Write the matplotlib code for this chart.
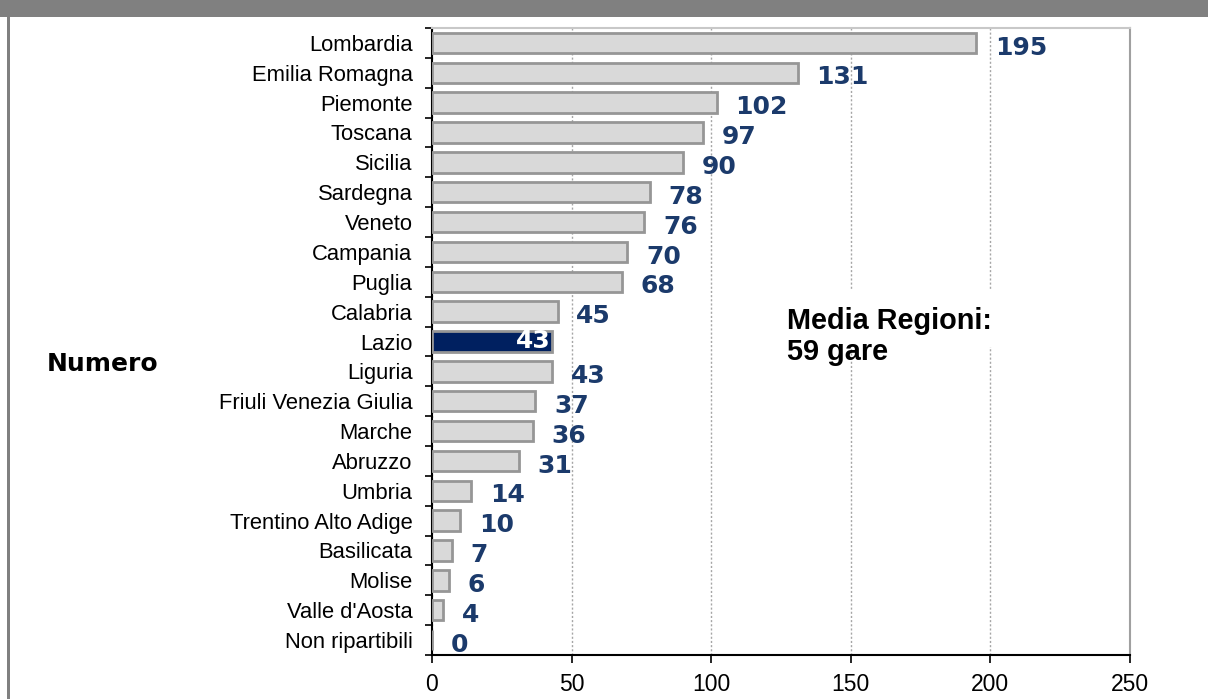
import matplotlib
matplotlib.use("Agg")
import matplotlib.pyplot as plt
from matplotlib.patches import Rectangle

regions = ["Lombardia", "Emilia Romagna", "Piemonte", "Toscana", "Sicilia",
           "Sardegna", "Veneto", "Campania", "Puglia", "Calabria", "Lazio",
           "Liguria", "Friuli Venezia Giulia", "Marche", "Abruzzo", "Umbria",
           "Trentino Alto Adige", "Basilicata", "Molise", "Valle d'Aosta",
           "Non ripartibili"]
values = [195, 131, 102, 97, 90, 78, 76, 70, 68, 45, 43, 43, 37, 36, 31,
          14, 10, 7, 6, 4, 0]
highlight = "Lazio"
xticks = [0, 50, 100, 150, 200, 250]

W, H = 1208, 699
fig = plt.figure(figsize=(W / 100, H / 100), dpi=100)
fig.patch.set_facecolor("white")

# header band and left border
fig.add_artist(Rectangle((0, 1 - 17 / H), 1, 17 / H, transform=fig.transFigure,
                         facecolor="#808080", edgecolor="none"))
fig.add_artist(Rectangle((7 / W, 0), 3 / W, 1 - 17 / H, transform=fig.transFigure,
                         facecolor="#808080", edgecolor="none"))

ax = fig.add_axes([432 / W, (H - 655) / H, (1130 - 432) / W, (655 - 28) / H])

ypos = list(range(len(regions)))
fills = ["#002060" if r == highlight else "#D9D9D9" for r in regions]
ax.barh(ypos, values, height=0.68, color=fills, edgecolor="#969696",
        linewidth=2, zorder=3)

ax.set_xlim(0, 250)
ax.set_ylim(len(regions) - 0.5, -0.5)
ax.set_xticks(xticks)
ax.set_xticklabels([str(t) for t in xticks], fontsize=16.5,
                   family="Liberation Sans")
ax.set_yticks(ypos)
ax.set_yticklabels(regions, fontsize=15.8, family="Liberation Sans")
ax.tick_params(axis="y", length=0, pad=14)
ax.set_yticks([i - 0.5 for i in range(len(regions) + 1)], minor=True)
ax.tick_params(axis="y", which="minor", length=5, width=1.2, color="black")
ax.tick_params(axis="x", length=6, width=1.2, pad=7)

ax.grid(axis="x", linestyle=(0, (1.5, 1.5)), color="#A6A6A6", linewidth=1,
        zorder=0)
ax.spines["left"].set_color("black")
ax.spines["left"].set_linewidth(1.5)
ax.spines["bottom"].set_color("black")
ax.spines["bottom"].set_linewidth(1.5)
ax.spines["top"].set_color("#C8C8C8")
ax.spines["top"].set_linewidth(1.5)
ax.spines["right"].set_color("#A0A0A0")
ax.spines["right"].set_linewidth(1.5)

navy = "#1B3A6B"
for i, (r, v) in enumerate(zip(regions, values)):
    if r == highlight:
        ax.annotate(str(v), xy=(v, i), xytext=(-1, 0), textcoords="offset points",
                    ha="right", va="center", color="white", fontsize=18,
                    fontweight="bold", family="DejaVu Sans", zorder=5)
    else:
        ax.annotate(str(v), xy=(v, i), xytext=(13.5, -3.3),
                    textcoords="offset points", ha="left", va="center",
                    color=navy, fontsize=18, fontweight="bold",
                    family="DejaVu Sans", zorder=5)

# average note with white box
fig.add_artist(Rectangle((780 / W, (H - 347) / H), (1000 - 780) / W, 57 / H,
                         transform=fig.transFigure, facecolor="white",
                         edgecolor="none", zorder=4))
fig.text(787 / W, (H - 307) / H, "Media Regioni:\n59 gare", ha="left", va="top",
         fontsize=20.8, fontweight="bold", family="Liberation Sans",
         color="black", linespacing=1.15, zorder=6)

fig.text(47 / W, (H - 364) / H, "Numero", ha="left", va="center", fontsize=18,
         fontweight="bold", family="DejaVu Sans", color="black")

fig.savefig("out.png", dpi=100)
